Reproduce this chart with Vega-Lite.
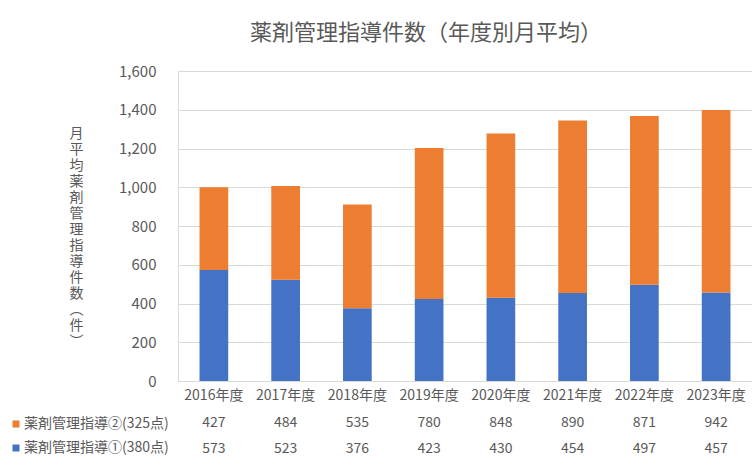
{
  "$schema": "https://vega.github.io/schema/vega-lite/v6.json",
  "padding": {"left": 9, "top": 22, "right": 0, "bottom": 0},
  "background": "white",
  "datasets": {
    "d": [
      {"year": "2016年度", "series": "薬剤管理指導①(380点)", "value": 573},
      {"year": "2017年度", "series": "薬剤管理指導①(380点)", "value": 523},
      {"year": "2018年度", "series": "薬剤管理指導①(380点)", "value": 376},
      {"year": "2019年度", "series": "薬剤管理指導①(380点)", "value": 423},
      {"year": "2020年度", "series": "薬剤管理指導①(380点)", "value": 430},
      {"year": "2021年度", "series": "薬剤管理指導①(380点)", "value": 454},
      {"year": "2022年度", "series": "薬剤管理指導①(380点)", "value": 497},
      {"year": "2023年度", "series": "薬剤管理指導①(380点)", "value": 457},
      {"year": "2016年度", "series": "薬剤管理指導②(325点)", "value": 427},
      {"year": "2017年度", "series": "薬剤管理指導②(325点)", "value": 484},
      {"year": "2018年度", "series": "薬剤管理指導②(325点)", "value": 535},
      {"year": "2019年度", "series": "薬剤管理指導②(325点)", "value": 780},
      {"year": "2020年度", "series": "薬剤管理指導②(325点)", "value": 848},
      {"year": "2021年度", "series": "薬剤管理指導②(325点)", "value": 890},
      {"year": "2022年度", "series": "薬剤管理指導②(325点)", "value": 871},
      {"year": "2023年度", "series": "薬剤管理指導②(325点)", "value": 942}
    ]
  },
  "bounds": "flush",
  "spacing": 29,
  "resolve": {"scale": {"color": "independent"}, "legend": {"color": "independent"}},
  "vconcat": [
    {
      "width": 574,
      "height": 310,
      "title": {
        "text": "薬剤管理指導件数（年度別月平均）",
        "anchor": "start",
        "frame": "group",
        "dx": 72,
        "offset": 19,
        "fontSize": 22,
        "fontWeight": "normal",
        "color": "#595959"
      },
      "data": {"name": "d"},
      "mark": {"type": "bar"},
      "encoding": {
        "x": {
          "field": "year",
          "type": "nominal",
          "sort": null,
          "scale": {"paddingInner": 0.6, "paddingOuter": 0.3},
          "axis": {
            "title": null,
            "labelAngle": 0,
            "labelFontSize": 14,
            "labelColor": "#595959",
            "labelPadding": 7,
            "ticks": false,
            "domainColor": "#d9d9d9"
          }
        },
        "y": {
          "field": "value",
          "type": "quantitative",
          "stack": "zero",
          "scale": {"domain": [0, 1600], "nice": false},
          "axis": {
            "values": [0, 200, 400, 600, 800, 1000, 1200, 1400, 1600],
            "format": ",d",
            "grid": true,
            "gridColor": "#d9d9d9",
            "domain": true,
            "domainColor": "#d9d9d9",
            "ticks": false,
            "labelPadding": 22,
            "labelFontSize": 15,
            "labelColor": "#595959",
            "title": ["月", "平", "均", "薬", "剤", "管", "理", "指", "導", "件", "数", "︵", "件", "︶"],
            "titleAngle": 0,
            "titleAlign": "center",
            "titleBaseline": "top",
            "titleX": -102,
            "titleY": 55,
            "titleLineHeight": 16,
            "titleFontSize": 14,
            "titleFontWeight": "normal",
            "titleColor": "#595959"
          }
        },
        "color": {
          "field": "series",
          "type": "nominal",
          "scale": {
            "domain": ["薬剤管理指導②(325点)", "薬剤管理指導①(380点)"],
            "range": ["#ED7D31", "#4472C4"]
          },
          "legend": {
            "title": null,
            "orient": "none",
            "direction": "vertical",
            "legendX": -169,
            "legendY": 346,
            "padding": 0,
            "symbolType": "square",
            "symbolSize": 49,
            "symbolStrokeWidth": 0,
            "labelFontSize": 14,
            "labelColor": "#595959",
            "labelOffset": 1,
            "labelLimit": 300,
            "rowPadding": 10
          }
        },
        "order": {"field": "series", "sort": "ascending"}
      }
    },
    {
      "width": 574,
      "height": 52,
      "data": {"name": "d"},
      "mark": {"type": "text", "fontSize": 14, "color": "#595959", "baseline": "middle", "align": "center"},
      "encoding": {
        "x": {
          "field": "year",
          "type": "nominal",
          "sort": null,
          "scale": {"paddingInner": 0.6, "paddingOuter": 0.3},
          "axis": null
        },
        "y": {
          "field": "series",
          "type": "nominal",
          "scale": {"domain": ["薬剤管理指導②(325点)", "薬剤管理指導①(380点)"], "paddingInner": 0, "paddingOuter": 0},
          "axis": null
        },
        "text": {"field": "value", "type": "quantitative"}
      }
    }
  ],
  "config": {
    "font": "Noto Sans CJK JP",
    "view": {"stroke": null}
  }
}
